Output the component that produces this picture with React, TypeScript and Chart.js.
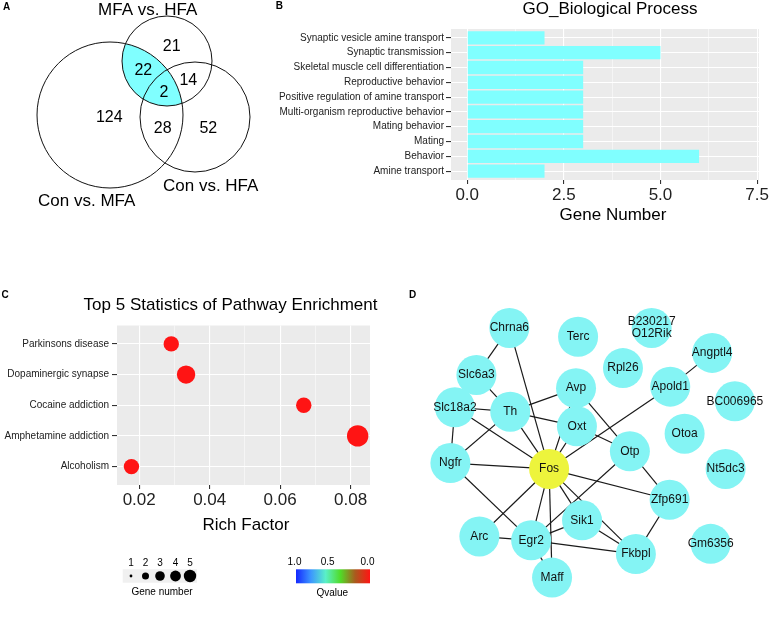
import React, { useEffect, useRef } from "react";
import { Chart, registerables } from "chart.js";

Chart.register(...registerables);

const FONT = "'Liberation Sans', Arial, Helvetica, sans-serif";
Chart.defaults.font.family = FONT;

// ---------------- Panel A: Venn diagram ----------------
const vennSetNames = ["MFA vs. HFA", "Con vs. MFA", "Con vs. HFA"];
const vennCenterX = [167, 110, 195];
const vennCenterY = [61, 115, 117];
const vennRadius = [45, 73, 55];
const vennSetLabelX = [147.7, 86.7, 210.7];
const vennSetLabelY = [10, 201, 186];
const vennHighlight = [0, 1];
const vennCounts = [21, 22, 14, 2, 124, 28, 52];
const vennCountX = [171.7, 143.3, 188.3, 164, 109.3, 162.7, 208.3];
const vennCountY = [46.7, 70.7, 80.7, 92.7, 117.3, 128.3, 128.3];

// ---------------- Panel B: GO bar chart ----------------
const goTerms = [
  "Synaptic vesicle amine transport",
  "Synaptic transmission",
  "Skeletal muscle cell differentiation",
  "Reproductive behavior",
  "Positive regulation of amine transport",
  "Multi-organism reproductive behavior",
  "Mating behavior",
  "Mating",
  "Behavior",
  "Amine transport",
];
const goCounts = [2, 5, 3, 3, 3, 3, 3, 3, 6, 2];
const goMajorTicks = [0, 2.5, 5, 7.5];
const goMinorTicks = [1.25, 3.75, 6.25];

// ---------------- Panel C: KEGG dot plot ----------------
const pathways = [
  "Parkinsons disease",
  "Dopaminergic synapse",
  "Cocaine addiction",
  "Amphetamine addiction",
  "Alcoholism",
];
const richFactor = [0.0291, 0.0333, 0.0667, 0.082, 0.0178];
const pathwayGenes = [3, 4, 3, 5, 3];
const pathwayQ = [0.0, 0.0, 0.0, 0.0, 0.0];
const richMajorTicks = [0.02, 0.04, 0.06, 0.08];
const richMinorTicks = [0.03, 0.05, 0.07];
const geneLegendValues = [1, 2, 3, 4, 5];
const qLegendLabels = ["1.0", "0.5", "0.0"];

// ---------------- Panel D: network ----------------
const geneNodes = [
  "Chrna6", "Terc", "B230217\nO12Rik", "Angptl4", "Slc6a3", "Rpl26", "Avp", "Apold1",
  "BC006965", "Slc18a2", "Th", "Oxt", "Otoa", "Otp", "Ngfr", "Fos", "Nt5dc3", "Zfp691",
  "Sik1", "Arc", "Egr2", "Fkbpl", "Gm6356", "Maff",
];
const nodeX = [500.7, 577.3, 659.3, 726.7, 464, 627.3, 575, 680, 752, 440, 501.7, 576, 696, 635, 435, 545, 741.7, 679.3, 581.7, 467.3, 525, 641.7, 725, 548.3];
const nodeY = [311.7, 321.7, 311.7, 340, 365, 357.3, 380, 378.3, 395, 401.7, 406.7, 423.3, 431.7, 451.7, 465, 471.7, 471.7, 506.7, 530, 548.3, 552.7, 568.3, 556.7, 595];
const hubGene = "Fos";
const edges: [string, string][] = [
  ["Chrna6", "Slc6a3"], ["Chrna6", "Fos"], ["Slc6a3", "Slc18a2"], ["Slc6a3", "Th"],
  ["Slc18a2", "Th"], ["Slc18a2", "Ngfr"], ["Slc18a2", "Fos"], ["Th", "Avp"],
  ["Th", "Oxt"], ["Th", "Fos"], ["Th", "Ngfr"], ["Avp", "Oxt"], ["Avp", "Fos"],
  ["Avp", "Otp"], ["Oxt", "Fos"], ["Oxt", "Otp"], ["Apold1", "Angptl4"], ["Apold1", "Fos"],
  ["Ngfr", "Fos"], ["Ngfr", "Egr2"], ["Otp", "Egr2"], ["Otp", "Zfp691"], ["Fos", "Zfp691"],
  ["Fos", "Arc"], ["Fos", "Egr2"], ["Fos", "Maff"], ["Fos", "Sik1"], ["Fos", "Fkbpl"],
  ["Zfp691", "Fkbpl"], ["Arc", "Egr2"], ["Egr2", "Sik1"], ["Egr2", "Fkbpl"],
  ["Egr2", "Maff"], ["Sik1", "Fkbpl"],
];

// ---------------- helpers ----------------
type TextItem = { t: string; x: number; y: number; size: number; bold?: boolean; align?: CanvasTextAlign; color?: string };

function textPlugin(id: string, items: TextItem[]) {
  return {
    id,
    afterDraw(chart: any) {
      const ctx = chart.ctx;
      ctx.save();
      for (const it of items) {
        ctx.font = `${it.bold ? "bold " : ""}${it.size}px ${FONT}`;
        ctx.fillStyle = it.color || "#000";
        ctx.textAlign = it.align || "center";
        ctx.textBaseline = "middle";
        ctx.fillText(it.t, it.x, it.y);
      }
      ctx.restore();
    },
  };
}

const panelBg = {
  id: "panelBg",
  beforeDraw(chart: any) {
    const { ctx, chartArea: a } = chart;
    ctx.save();
    ctx.fillStyle = "#EBEBEB";
    ctx.fillRect(a.left, a.top, a.right - a.left, a.bottom - a.top);
    ctx.restore();
  },
};

const isIn = (list: number[], v: number) => list.some((t) => Math.abs(t - v) < 1e-9);

function qColor(q: number) {
  // colour scale: q = 0 -> red, 0.5 -> green, 1 -> blue
  const stops = [
    [0, [255, 20, 20]],
    [0.2, [170, 90, 30]],
    [0.4, [80, 220, 40]],
    [0.6, [90, 240, 200]],
    [0.8, [60, 150, 255]],
    [1, [20, 40, 255]],
  ] as [number, number[]][];
  for (let i = 1; i < stops.length; i++) {
    if (q <= stops[i][0]) {
      const [q0, c0] = stops[i - 1];
      const [q1, c1] = stops[i];
      const f = (q - q0) / (q1 - q0);
      const c = c0.map((v, k) => Math.round(v + (c1[k] - v) * f));
      return `rgb(${c[0]},${c[1]},${c[2]})`;
    }
  }
  return "rgb(20,40,255)";
}

const dotRadius = (n: number) => 3.2 + 1.5 * n;
const legendDotRadius = (n: number) => [1.4, 3.5, 4.8, 5.4, 6.2][n - 1];

const common = {
  responsive: false,
  animation: false as const,
  events: [] as any[],
  plugins: { legend: { display: false }, tooltip: { enabled: false }, title: { display: false } },
};

// ---------------- chart configs ----------------
function vennConfig(): any {
  const vennPlugin = {
    id: "vennLens",
    beforeDatasetsDraw(chart: any) {
      const { ctx } = chart;
      const sx = chart.scales.x, sy = chart.scales.y;
      const px = (i: number) => sx.getPixelForValue(vennCenterX[i]);
      const py = (i: number) => sy.getPixelForValue(vennCenterY[i]);
      const pr = (i: number) => Math.abs(sx.getPixelForValue(vennRadius[i]) - sx.getPixelForValue(0));
      const [a, b] = vennHighlight;
      ctx.save();
      ctx.beginPath();
      ctx.arc(px(a), py(a), pr(a), 0, Math.PI * 2);
      ctx.clip();
      ctx.beginPath();
      ctx.arc(px(b), py(b), pr(b), 0, Math.PI * 2);
      ctx.fillStyle = "#80FFFF";
      ctx.fill();
      ctx.restore();
    },
    afterDatasetsDraw(chart: any) {
      const { ctx } = chart;
      const sx = chart.scales.x, sy = chart.scales.y;
      ctx.save();
      ctx.fillStyle = "#000";
      ctx.textAlign = "center";
      ctx.textBaseline = "middle";
      ctx.font = `16px ${FONT}`;
      vennCounts.forEach((c, i) => ctx.fillText(String(c), sx.getPixelForValue(vennCountX[i]), sy.getPixelForValue(vennCountY[i])));
      ctx.font = `17px ${FONT}`;
      vennSetNames.forEach((n, i) => ctx.fillText(n, sx.getPixelForValue(vennSetLabelX[i]), sy.getPixelForValue(vennSetLabelY[i])));
      ctx.restore();
    },
  };
  return {
    type: "scatter",
    data: {
      datasets: [
        {
          data: vennCenterX.map((x, i) => ({ x, y: vennCenterY[i] })),
          pointRadius: (c: any) => {
            const s = c.chart.scales.x;
            return Math.abs(s.getPixelForValue(vennRadius[c.dataIndex]) - s.getPixelForValue(0));
          },
          pointBackgroundColor: "rgba(0,0,0,0)",
          pointBorderColor: "#111",
          pointBorderWidth: 1,
          clip: false,
        },
      ],
    },
    options: {
      ...common,
      layout: { padding: 0 },
      scales: {
        x: { type: "linear", display: false, min: 0, max: 260 },
        y: { type: "linear", display: false, min: 0, max: 250, reverse: true },
      },
    },
    plugins: [vennPlugin, textPlugin("lettersA", [{ t: "A", x: 6.7, y: 7.3, size: 10, bold: true }])],
  };
}

function goConfig(): any {
  const allTicks = [...goMajorTicks, ...goMinorTicks].sort((a, b) => a - b);
  return {
    type: "bar",
    data: {
      datasets: [
        {
          data: goCounts.map((v, i) => ({ x: v, y: i })),
          backgroundColor: "#80FFFF",
          borderWidth: 0,
          barPercentage: 0.9,
          categoryPercentage: 1,
        },
      ],
    },
    options: {
      ...common,
      indexAxis: "y",
      layout: { padding: { top: 29, right: 21, left: 0, bottom: 0 } },
      scales: {
        x: {
          type: "linear",
          min: -0.42,
          max: 7.55,
          afterBuildTicks: (s: any) => { s.ticks = allTicks.map((v) => ({ value: v })); },
          afterFit: (s: any) => { s.height = 60; },
          border: { display: false },
          grid: {
            color: "#FFFFFF",
            lineWidth: (c: any) => (isIn(goMajorTicks, c.tick?.value) ? 1.1 : 0.5),
            tickColor: (c: any) => (isIn(goMajorTicks, c.tick?.value) ? "#333333" : "rgba(0,0,0,0)"),
            tickLength: 4,
          },
          ticks: {
            autoSkip: false,
            maxRotation: 0,
            padding: 1,
            color: "#222",
            font: { size: 17 },
            callback: (v: number) => (isIn(goMajorTicks, v) ? v.toFixed(1) : ""),
          },
        },
        y: {
          type: "linear",
          min: -0.6,
          max: 9.6,
          reverse: true,
          offset: false,
          afterBuildTicks: (s: any) => { s.ticks = goTerms.map((_, i) => ({ value: i })); },
          afterFit: (s: any) => { s.width = 191; },
          border: { display: false },
          grid: { offset: false, color: "#FFFFFF", lineWidth: 1.1, tickColor: "#333333", tickLength: 5 },
          ticks: { autoSkip: false, padding: 2, color: "#222", font: { size: 10 }, callback: (v: number) => goTerms[v] },
        },
      },
    },
    plugins: [
      panelBg,
      textPlugin("textsB", [
        { t: "B", x: 19.3, y: 6.7, size: 10, bold: true },
        { t: "GO_Biological Process", x: 350, y: 9.5, size: 17 },
        { t: "Gene Number", x: 353, y: 215.5, size: 17 },
      ]),
    ],
  };
}

function keggConfig(): any {
  const allTicks = [...richMajorTicks, ...richMinorTicks].sort((a, b) => a - b);
  const legendPlugin = {
    id: "keggLegend",
    afterDraw(chart: any) {
      const ctx = chart.ctx;
      ctx.save();
      // gene number legend
      ctx.fillStyle = "#F0F0F0";
      ctx.fillRect(122.7, 299.3, 74.3, 13.4);
      const dotsX = [131, 145.5, 160, 175.5, 190];
      ctx.fillStyle = "#000";
      ctx.textAlign = "center";
      ctx.textBaseline = "middle";
      ctx.font = `10px ${FONT}`;
      geneLegendValues.forEach((n, i) => {
        ctx.fillText(String(n), dotsX[i], 293.5);
        ctx.beginPath();
        ctx.arc(dotsX[i], 306, legendDotRadius(n), 0, Math.PI * 2);
        ctx.fill();
      });
      ctx.fillText("Gene number", 162, 322.7);
      // q value colour bar
      const g = ctx.createLinearGradient(296, 0, 370, 0);
      for (let k = 0; k <= 10; k++) g.addColorStop(k / 10, qColor(1 - k / 10));
      ctx.fillStyle = g;
      ctx.fillRect(296, 299.3, 74, 14);
      ctx.fillStyle = "#000";
      const qx = [294.5, 327.7, 367.5];
      qLegendLabels.forEach((l, i) => ctx.fillText(l, qx[i], 292.3));
      ctx.fillText("Qvalue", 332.3, 323.3);
      ctx.restore();
    },
  };
  return {
    type: "scatter",
    data: {
      datasets: [
        {
          data: richFactor.map((x, i) => ({ x, y: i })),
          pointRadius: pathwayGenes.map(dotRadius),
          pointBackgroundColor: pathwayQ.map(qColor),
          pointBorderWidth: 0,
        },
      ],
    },
    options: {
      ...common,
      layout: { padding: { top: 55.5, right: 20, left: 0, bottom: 102 } },
      scales: {
        x: {
          type: "linear",
          min: 0.0137,
          max: 0.0855,
          afterBuildTicks: (s: any) => { s.ticks = allTicks.map((v) => ({ value: v })); },
          afterFit: (s: any) => { s.height = 30; },
          border: { display: false },
          grid: {
            color: "#FFFFFF",
            lineWidth: (c: any) => (isIn(richMajorTicks, c.tick?.value) ? 1.1 : 0.5),
            tickColor: (c: any) => (isIn(richMajorTicks, c.tick?.value) ? "#333333" : "rgba(0,0,0,0)"),
            tickLength: 4,
          },
          ticks: {
            autoSkip: false,
            maxRotation: 0,
            padding: 1,
            color: "#222",
            font: { size: 17 },
            callback: (v: number) => (isIn(richMajorTicks, v) ? v.toFixed(2) : ""),
          },
        },
        y: {
          type: "linear",
          min: -0.6,
          max: 4.6,
          reverse: true,
          afterBuildTicks: (s: any) => { s.ticks = pathways.map((_, i) => ({ value: i })); },
          afterFit: (s: any) => { s.width = 117; },
          border: { display: false },
          grid: { color: "#FFFFFF", lineWidth: 1.1, tickColor: "#333333", tickLength: 5 },
          ticks: { autoSkip: false, padding: 3, color: "#222", font: { size: 10 }, callback: (v: number) => pathways[v] },
        },
      },
    },
    plugins: [
      panelBg,
      legendPlugin,
      textPlugin("textsC", [
        { t: "C", x: 5, y: 25, size: 10, bold: true },
        { t: "Top 5 Statistics of Pathway Enrichment", x: 230.5, y: 35, size: 17 },
        { t: "Rich Factor", x: 246, y: 255.8, size: 17 },
      ]),
    ],
  };
}

function networkConfig(): any {
  const idx = (n: string) => geneNodes.indexOf(n);
  const labelPlugin = {
    id: "nodeLabels",
    afterDatasetsDraw(chart: any) {
      const { ctx } = chart;
      const sx = chart.scales.x, sy = chart.scales.y;
      ctx.save();
      ctx.fillStyle = "#111";
      ctx.textAlign = "center";
      ctx.textBaseline = "middle";
      ctx.font = `12px ${FONT}`;
      geneNodes.forEach((n, i) => {
        const lines = n.split("\n");
        const x = sx.getPixelForValue(nodeX[i]);
        const y = sy.getPixelForValue(nodeY[i]);
        lines.forEach((l, k) => ctx.fillText(l, x, y + (k - (lines.length - 1) / 2) * 12));
      });
      ctx.restore();
    },
  };
  const edgeSets = edges.map(([a, b]) => ({
    type: "scatter",
    data: [
      { x: nodeX[idx(a)], y: nodeY[idx(a)] },
      { x: nodeX[idx(b)], y: nodeY[idx(b)] },
    ],
    showLine: true,
    pointRadius: 0,
    borderColor: "#1A1A1A",
    borderWidth: 1.2,
    order: 1,
  }));
  return {
    type: "scatter",
    data: {
      datasets: [
        {
          data: geneNodes.map((_, i) => ({ x: nodeX[i], y: nodeY[i] })),
          pointRadius: 20,
          pointBackgroundColor: geneNodes.map((n) => (n === hubGene ? "#EDF43C" : "#84F4F4")),
          pointBorderWidth: 0,
          order: 0,
          clip: false,
        },
        ...edgeSets,
      ],
    },
    options: {
      ...common,
      layout: { padding: 0 },
      scales: {
        x: { type: "linear", display: false, min: 390, max: 780 },
        y: { type: "linear", display: false, min: 280, max: 617, reverse: true },
      },
    },
    plugins: [labelPlugin, textPlugin("lettersD", [{ t: "D", x: 22.7, y: 15, size: 10, bold: true }])],
  };
}

function Panel({ left, top, width, height, build }: { left: number; top: number; width: number; height: number; build: () => any }) {
  const ref = useRef<HTMLCanvasElement>(null);
  useEffect(() => {
    const chart = new Chart(ref.current as HTMLCanvasElement, build());
    return () => chart.destroy();
  }, []);
  return (
    <div style={{ position: "absolute", left, top, width, height }}>
      <canvas ref={ref} width={width} height={height} style={{ display: "block", width, height }} />
    </div>
  );
}

export default function App() {
  return (
    <div style={{ position: "absolute", left: 0, top: 0, width: 780, height: 617, background: "#fff" }}>
      <Panel left={0} top={0} width={260} height={250} build={vennConfig} />
      <Panel left={260} top={0} width={520} height={240} build={goConfig} />
      <Panel left={0} top={270} width={390} height={347} build={keggConfig} />
      <Panel left={390} top={280} width={390} height={337} build={networkConfig} />
    </div>
  );
}
